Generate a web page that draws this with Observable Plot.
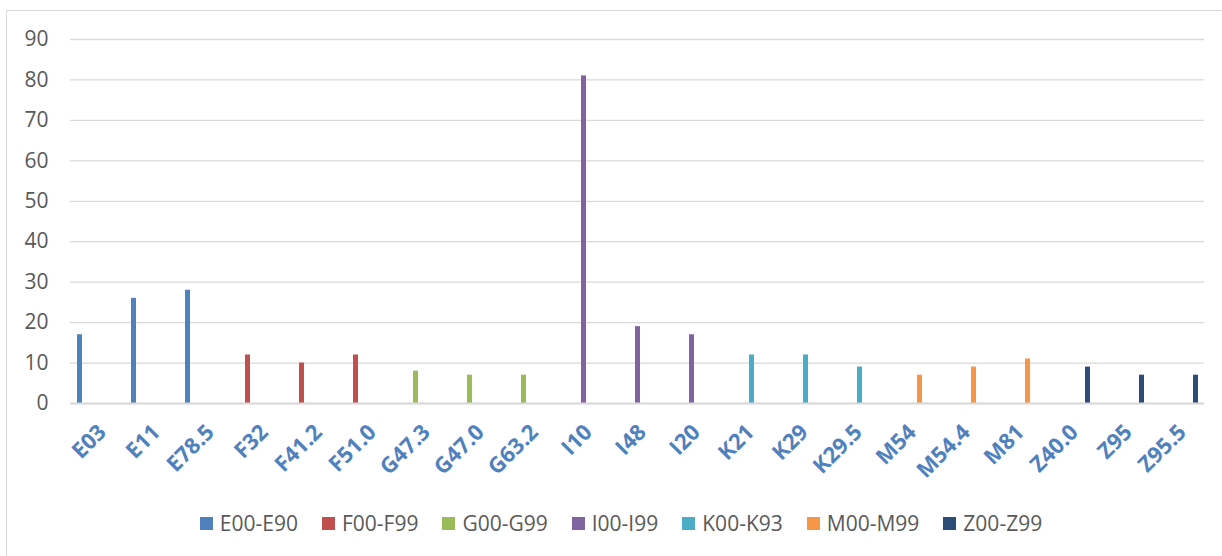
<!DOCTYPE html>
<html>
<head>
<meta charset="utf-8">
<script src="https://cdn.jsdelivr.net/npm/d3@7"></script>
<script src="https://cdn.jsdelivr.net/npm/@observablehq/plot@0.6"></script>
<style>
  html, body { margin: 0; padding: 0; background: #fff; overflow: hidden; }
  #frame {
    position: absolute; left: 6px; top: 10px; width: 1230px; height: 600px;
    border-left: 1.5px solid #d9d9d9; border-top: 1.5px solid #d9d9d9; box-sizing: border-box;
  }
  #chart svg { display: block; }
  #legend {
    position: absolute; left: 8px; top: 497px; width: 1236px; height: 30px;
    display: flex; justify-content: center; align-items: center;
    font-family: "Open Sans", sans-serif; font-size: 21px; color: #595959;
  }
  .item { display: inline-flex; align-items: center; margin-right: 24px; white-space: nowrap; }
  .sw { display: inline-block; width: 13px; height: 13px; margin-right: 7px; flex: 0 0 13px; }
</style>
</head>
<body>
<div id="frame">
  <div id="chart"></div>
  <div id="legend"></div>
</div>
<script>
const categories = ["E03","E11","E78.5","F32","F41.2","F51.0","G47.3","G47.0","G63.2","I10","I48","I20","K21","K29","K29.5","M54","M54.4","M81","Z40.0","Z95","Z95.5"];
const groups = ["E00-E90","E00-E90","E00-E90","F00-F99","F00-F99","F00-F99","G00-G99","G00-G99","G00-G99","I00-I99","I00-I99","I00-I99","K00-K93","K00-K93","K00-K93","M00-M99","M00-M99","M00-M99","Z00-Z99","Z00-Z99","Z00-Z99"];
const values = [17, 26, 28, 12, 10, 12, 8, 7, 7, 81, 19, 17, 12, 12, 9, 7, 9, 11, 9, 7, 7];
const seriesNames = ["E00-E90","F00-F99","G00-G99","I00-I99","K00-K93","M00-M99","Z00-Z99"];
const seriesColors = ["#4f81bd","#c0504d","#9bbb59","#8064a2","#4bacc6","#f79646","#2c4d75"];
const yTicks = [0, 10, 20, 30, 40, 50, 60, 70, 80, 90];

const data = categories.map((c, i) => ({category: c, series: groups[i], value: values[i]}));

const plot = Plot.plot({
  width: 1210,
  height: 477,
  marginLeft: 63,
  marginRight: 13,
  marginTop: 28,
  marginBottom: 85,
  style: {fontFamily: "'Open Sans', sans-serif", background: "transparent"},
  fx: {domain: categories, padding: 0, label: null},
  x: {domain: seriesNames, paddingInner: 0.25, paddingOuter: 0.775, axis: null},
  y: {domain: [0, 90], label: null},
  color: {domain: seriesNames, range: seriesColors},
  marks: [
    Plot.gridY(yTicks, {stroke: "#d9d9d9", strokeOpacity: 1, strokeWidth: 1.3}),
    Plot.axisY(yTicks, {tickSize: 0, tickPadding: 22, fontSize: 21, fill: "#595959", label: null}),
    Plot.axisFx({anchor: "bottom", tickRotate: -45, tickSize: 0, tickPadding: 4, dy: 21, dx: 5, fontSize: 22, fontWeight: "bold", fill: "#4f81bd", label: null}),
    Plot.barY(data, {fx: "category", x: "series", y: "value", fill: "series", inset: 0}),
    Plot.ruleY([0], {stroke: "#d9d9d9", strokeWidth: 2})
  ]
});
document.getElementById("chart").appendChild(plot);

const colorScale = plot.scale("color");
const legend = document.getElementById("legend");
colorScale.domain.forEach((name, i) => {
  const item = document.createElement("span");
  item.className = "item";
  const sw = document.createElement("span");
  sw.className = "sw";
  sw.style.background = colorScale.range[i];
  item.appendChild(sw);
  item.appendChild(document.createTextNode(name));
  legend.appendChild(item);
});
</script>
</body>
</html>
